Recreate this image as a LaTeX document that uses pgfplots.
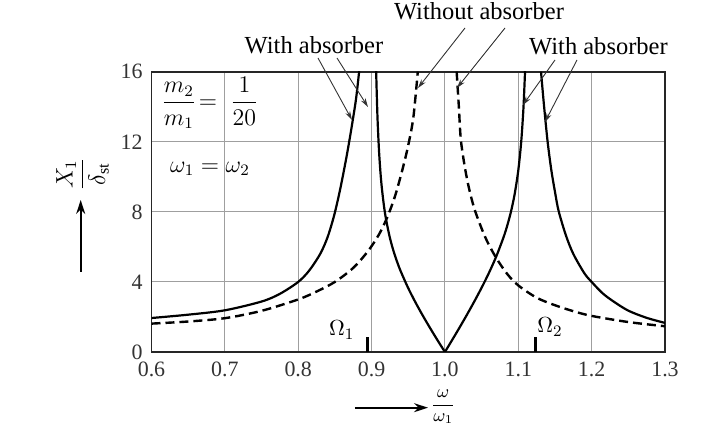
\documentclass[border=0pt]{standalone}
\usepackage{amsmath}
\usepackage{fontspec}
\setmainfont{Liberation Serif}
\usepackage{pgfplots}
\pgfplotsset{compat=1.18}
\usetikzlibrary{arrows.meta}
\begin{document}
\begin{tikzpicture}
\path[use as bounding box] (0,0) rectangle (363.5bp,217.5bp);
\begin{axis}[
  scale only axis, width=256.75bp, height=140.15bp,
  at={(75.75bp,41.5bp)}, anchor=south west,
  xmin=0.6, xmax=1.3, ymin=0, ymax=16,
  xtick={0.6,0.7,0.8,0.9,1.0,1.1,1.2,1.3},
  xticklabels={0.6,0.7,0.8,0.9,1.0,1.1,1.2,1.3},
  ytick={0,4,8,12,16},
  grid=major, major grid style={gray!75, line width=0.5bp},
  axis line style={line width=0.9bp, black!85},
  tick style={draw=none},
  /pgf/number format/assume math mode=true,
  tick label style={font=\fontsize{11}{13}\selectfont, text=black!80},
  xticklabel style={yshift=-1.5bp},
  yticklabel style={xshift=-1bp},
]
% with absorber, left branch
\addplot[black, line width=1.1bp, smooth] coordinates {
(0.6,1.94)(0.65,2.13)(0.7,2.38)(0.75,2.88)(0.775,3.32)(0.8,4.0)(0.815,4.65)(0.83,5.6)(0.84,6.55)(0.849,7.8)(0.857,9.25)(0.865,10.95)(0.8705,12.25)(0.875,13.4)(0.879,14.5)(0.883,16)(0.885,17)};
% with absorber, V left arm
\addplot[black, line width=1.1bp, smooth] coordinates {
(1.0,0)(0.99,0.666)(0.98,1.352)(0.97,2.065)(0.96,2.821)(0.95,3.643)(0.94,4.581)(0.935,5.126)(0.93,5.754)(0.925,6.515)(0.92,7.51)(0.917,8.305)(0.914,9.364)(0.912,10.316)(0.91,11.602)(0.908,13.47)(0.9063,15.93)(0.9058,16.92)};
% with absorber, V right arm
\addplot[black, line width=1.1bp, smooth] coordinates {
(1.0,0)(1.01,0.694)(1.02,1.401)(1.03,2.127)(1.04,2.88)(1.05,3.669)(1.06,4.516)(1.07,5.455)(1.08,6.559)(1.085,7.22)(1.09,8.005)(1.095,8.996)(1.1,10.363)(1.104,12.0)(1.107,13.89)(1.109,15.78)(1.1095,16.38)};
% with absorber, right branch
\addplot[black, line width=1.1bp, smooth] coordinates {
(1.131,16)(1.135,14.1)(1.14,12)(1.145,10.4)(1.15,9.15)(1.155,8.05)(1.165,6.65)(1.175,5.6)(1.19,4.5)(1.2,4.0)(1.215,3.35)(1.23,2.88)(1.25,2.36)(1.275,1.95)(1.3,1.66)};
% without absorber
\addplot[black, line width=1.2bp, smooth, dash pattern=on 4.5bp off 2.5bp] coordinates {
(0.6,1.62)(0.65,1.74)(0.7,1.93)(0.75,2.35)(0.8,3.0)(0.825,3.45)(0.85,4.0)(0.875,4.8)(0.895,5.75)(0.91,6.7)(0.9215,7.7)(0.932,8.9)(0.942,10.4)(0.95,11.8)(0.957,13.4)(0.963,16)};
\addplot[black, line width=1.2bp, smooth, dash pattern=on 4.5bp off 2.5bp] coordinates {
(1.016,16)(1.019,14)(1.022,12)(1.03,9.9)(1.04,8.2)(1.055,6.55)(1.0695,5.4)(1.085,4.45)(1.1,3.8)(1.125,3.1)(1.15,2.67)(1.175,2.33)(1.2,2.06)(1.25,1.71)(1.3,1.47)};
% Omega markers
\addplot[black, line width=1.5bp] coordinates {(0.894,0)(0.894,0.86)};
\addplot[black, line width=1.5bp] coordinates {(1.124,0)(1.124,0.86)};
\end{axis}
\begin{scope}[x=0.5bp, y=-0.5bp, shift={(0,217.5bp)}]
\begin{scope}[font=\fontsize{12.3}{14}\selectfont]
\node[anchor=base, inner sep=0] at (314,53.3) {With absorber};
\node[anchor=base, inner sep=0] at (479,20) {Without absorber};
\node[anchor=base, inner sep=0] at (598.5,54.5) {With absorber};
\end{scope}
\begin{scope}[line width=0.45bp, black!80, -{Stealth[length=4.5pt, width=2.6pt]}]
\draw (318,58) -- (352,120);
\draw (337,58) -- (368,107);
\draw (465,28) -- (418,88);
\draw (505,28) -- (457,88);
\draw (555,60) -- (523,105);
\draw (577,60) -- (545,122);
\end{scope}
\node[font=\fontsize{11.5}{13}\selectfont] at (210,103) {$\dfrac{m_2}{m_1}\!=\;\dfrac{1}{20}$};
\node[font=\fontsize{11.5}{13}\selectfont] at (210,169) {$\omega_1 = \omega_2$};
\node[font=\fontsize{11}{13}\selectfont] at (341.7,330) {$\Omega_1$};
\node[font=\fontsize{11}{13}\selectfont] at (550,327) {$\Omega_2$};
\node[rotate=90, font=\fontsize{11.5}{13}\selectfont] at (82.5,174) {$\dfrac{X_1}{\delta_{\mathrm{st}}}$};
\draw[line width=1bp, -{Stealth[length=7pt, width=4.5pt]}] (80.7,272) -- (80.7,200);
\draw[line width=1bp, -{Stealth[length=7pt, width=4.5pt]}] (355,407.7) -- (428,407.7);
\node[font=\fontsize{9}{11}\selectfont] at (443.3,407) {$\dfrac{\omega}{\omega_1}$};
\end{scope}
\end{tikzpicture}
\end{document}
